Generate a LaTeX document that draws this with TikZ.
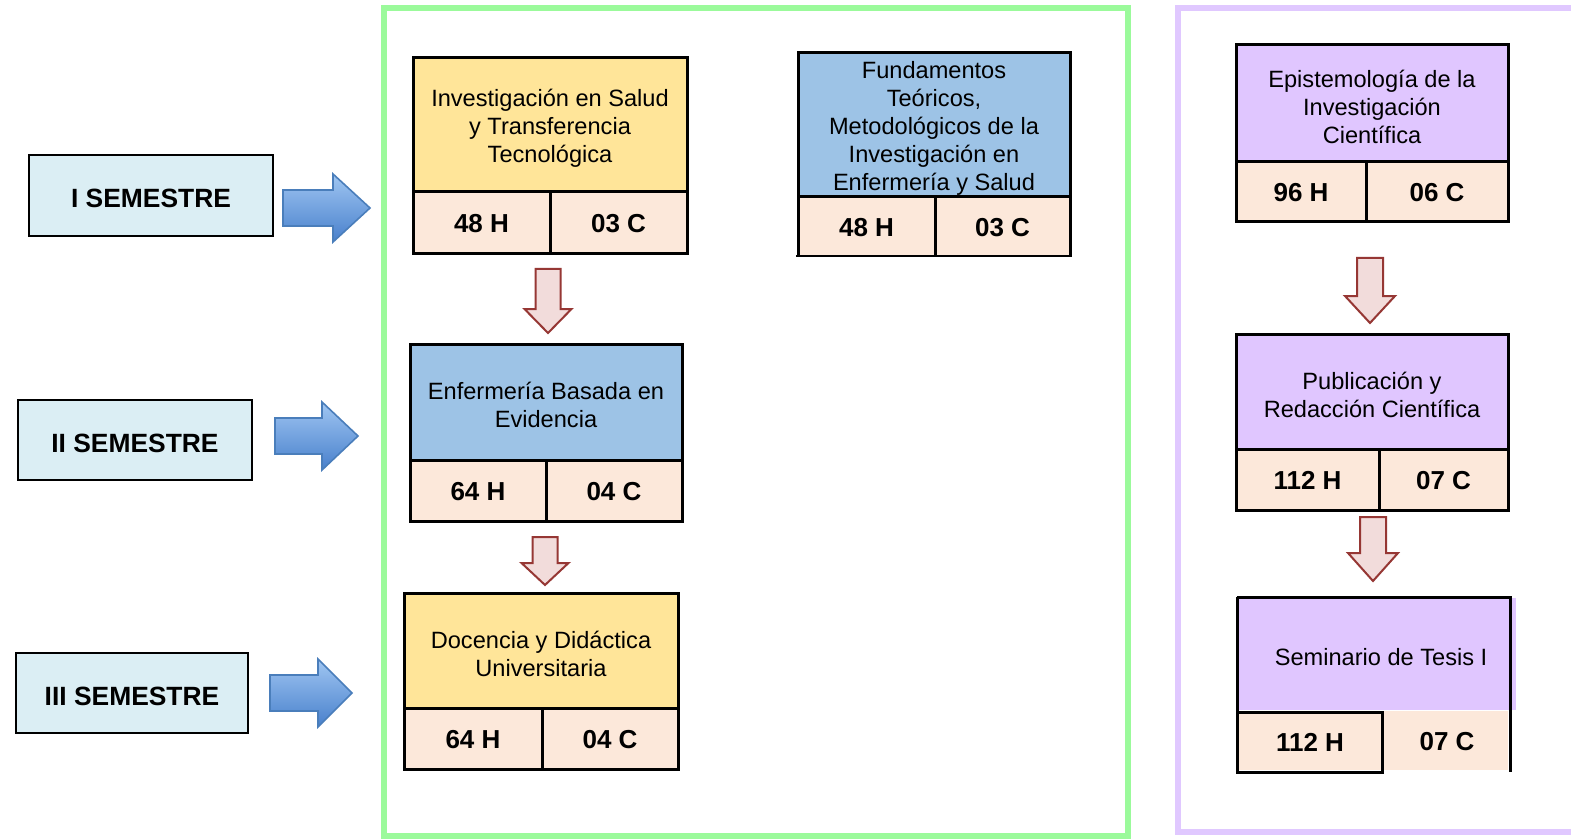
\documentclass[tikz,border=0pt]{standalone}
\usepackage{fontspec}
\setmainfont{Liberation Sans}
\definecolor{yellowbox}{RGB}{255,229,153}
\definecolor{bluebox}{RGB}{157,195,230}
\definecolor{purplebox}{RGB}{224,198,255}
\definecolor{peach}{RGB}{252,232,218}
\definecolor{semblue}{RGB}{219,238,244}
\definecolor{greenline}{RGB}{155,250,155}
\definecolor{purpleline}{RGB}{224,200,255}
\definecolor{redfill}{RGB}{242,220,219}
\definecolor{redline}{RGB}{150,55,52}
\definecolor{arrowtop}{RGB}{160,198,242}
\definecolor{arrowbot}{RGB}{72,128,204}
\definecolor{arrowline}{RGB}{74,126,187}
\tikzset{
  course/.style={font=\fontsize{11.8}{14}\selectfont, align=center, inner sep=0pt, yshift=-1.5pt},
  cell/.style={font=\bfseries\fontsize{13}{15}\selectfont, inner sep=0pt, yshift=-0.5pt},
  bord/.style={line width=1.5pt},
  sembox/.style={draw, line width=1pt, fill=semblue, font=\bfseries\fontsize{13.2}{15}\selectfont, inner sep=0pt, text height=12.5pt, text depth=0pt},
  bluearrow/.style={draw=arrowline, line width=0.8pt, top color=arrowtop, bottom color=arrowbot, line join=miter},
  redarrow/.style={draw=redline, line width=1pt, fill=redfill, line join=miter},
  greenframe/.style={draw=greenline, line width=3pt},
  purpleframe/.style={draw=purpleline, line width=3pt},
}
% #1 name #2 x1 #3 y1 #4 x2 #5 ydiv #6 y2 #7 xdiv #8 color #9 text
\newcommand\cbox[9]{%
  \fill[#8] (#2,#3) rectangle (#4,#5);
  \fill[peach] (#2,#5) rectangle (#4,#6);
  \draw[bord] (#2,#3) rectangle (#4,#6) (#2,#5) -- (#4,#5) (#7,#5) -- (#7,#6);
  \node[course] (#1) at ({(#2+#4)/2},{(#3+#5)/2}) {#9};
  \coordinate (#1-h) at ({(#2+#7)/2},{(#5+#6)/2});
  \coordinate (#1-c) at ({(#7+#4)/2},{(#5+#6)/2});
}
% x0 xh xt yc
\newcommand\rarrow[4]{%
  \draw[bluearrow] ({#1},{#4-18}) -- ({#2},{#4-18}) -- ({#2},{#4-34}) -- ({#3},{#4}) -- ({#2},{#4+34}) -- ({#2},{#4+18}) -- ({#1},{#4+18}) -- cycle;}
% xc ytop yhead ytip bodyhalf headhalf
\newcommand\darrow[6]{%
  \draw[redarrow] ({#1-#5},{#2}) -- ({#1+#5},{#2}) -- ({#1+#5},{#3}) -- ({#1+#6},{#3}) -- ({#1},{#4}) -- ({#1-#6},{#3}) -- ({#1-#5},{#3}) -- cycle;}
\begin{document}
\begin{tikzpicture}[x=0.5pt,y=-0.5pt]
\useasboundingbox (0,0) rectangle (1571,840);
\fill[white] (0,0) rectangle (1571,840);
% frames
\draw[greenframe] (384,8) rectangle (1128,836);
\draw[purpleframe] (1178,8) rectangle (1650,832);
% semester boxes
\node[sembox, minimum width=122pt, minimum height=40.5pt] (s1) at (151,195.5) {I SEMESTRE};
\node[sembox, minimum width=117pt, minimum height=40pt] (s2) at (135,440) {II SEMESTRE};
\node[sembox, minimum width=116pt, minimum height=40pt] (s3) at (132,693) {III SEMESTRE};
% blue arrows
\rarrow{283}{333}{370}{208}
\rarrow{275}{322}{358}{436}
\rarrow{270}{318}{352}{693}
% course boxes
\cbox{b1}{413}{58}{687}{192}{254}{550}{yellowbox}{Investigación en Salud\\y Transferencia\\Tecnológica}
\node[cell] (b1h) at (b1-h) {48 H};
\node[cell] (b1c) at (b1-c) {03 C};
% box 2 (thin bottom)
\fill[bluebox] (798,53) rectangle (1070,197);
\fill[peach] (798,197) rectangle (1070,256);
\draw[bord] (798,256) -- (798,53) -- (1070,53) -- (1070,256) (798,197) -- (1070,197) (935,197) -- (935,256);
\draw[line width=0.6pt] (796,256) -- (1072,256);
\node[course] (b2) at (934,125) {Fundamentos\\Teóricos,\\Metodológicos de la\\Investigación en\\Enfermería y Salud};
\node[cell] (b2h) at (866.5,226.5) {48 H};
\node[cell] (b2c) at (1002.5,226.5) {03 C};
\cbox{b3}{410}{344}{682}{460}{521}{546}{bluebox}{Enfermería Basada en\\Evidencia}
\node[cell] (b3h) at (b3-h) {64 H};
\node[cell] (b3c) at (b3-c) {04 C};
\cbox{b4}{404}{593}{678}{708}{769}{542}{yellowbox}{Docencia y Didáctica\\Universitaria}
\node[cell] (b4h) at (b4-h) {64 H};
\node[cell] (b4c) at (b4-c) {04 C};
\cbox{b5}{1236}{45}{1508}{162}{222}{1366}{purplebox}{Epistemología de la\\Investigación\\Científica}
\node[cell] (b5h) at (b5-h) {96 H};
\node[cell] (b5c) at (b5-c) {06 C};
\cbox{b6}{1236}{334}{1508}{449}{510}{1379}{purplebox}{Publicación y\\Redacción Científica}
\node[cell] (b6h) at (b6-h) {112 H};
\node[cell] (b6c) at (b6-c) {07 C};
% box 7 (partial borders)
\fill[purplebox] (1237,598) rectangle (1516,710);
\fill[peach] (1237,711) rectangle (1508,770);
\draw[bord] (1237,597) -- (1510,597) -- (1510,772);
\draw[bord] (1237,597) -- (1237,772) -- (1382,772) -- (1382,712) -- (1237,712);
\node[course] (b7) at (1381,654) {Seminario de Tesis I};
\node[cell] (b7h) at (1310,741) {112 H};
\node[cell] (b7c) at (1447,741) {07 C};
% red arrows
\darrow{548}{269}{309}{333}{12.5}{23.5}
\darrow{545}{537}{563}{585}{12.5}{23.5}
\darrow{1370}{258}{296}{323}{13}{25}
\darrow{1373}{517}{553}{581}{13}{25}
\end{tikzpicture}
\end{document}
